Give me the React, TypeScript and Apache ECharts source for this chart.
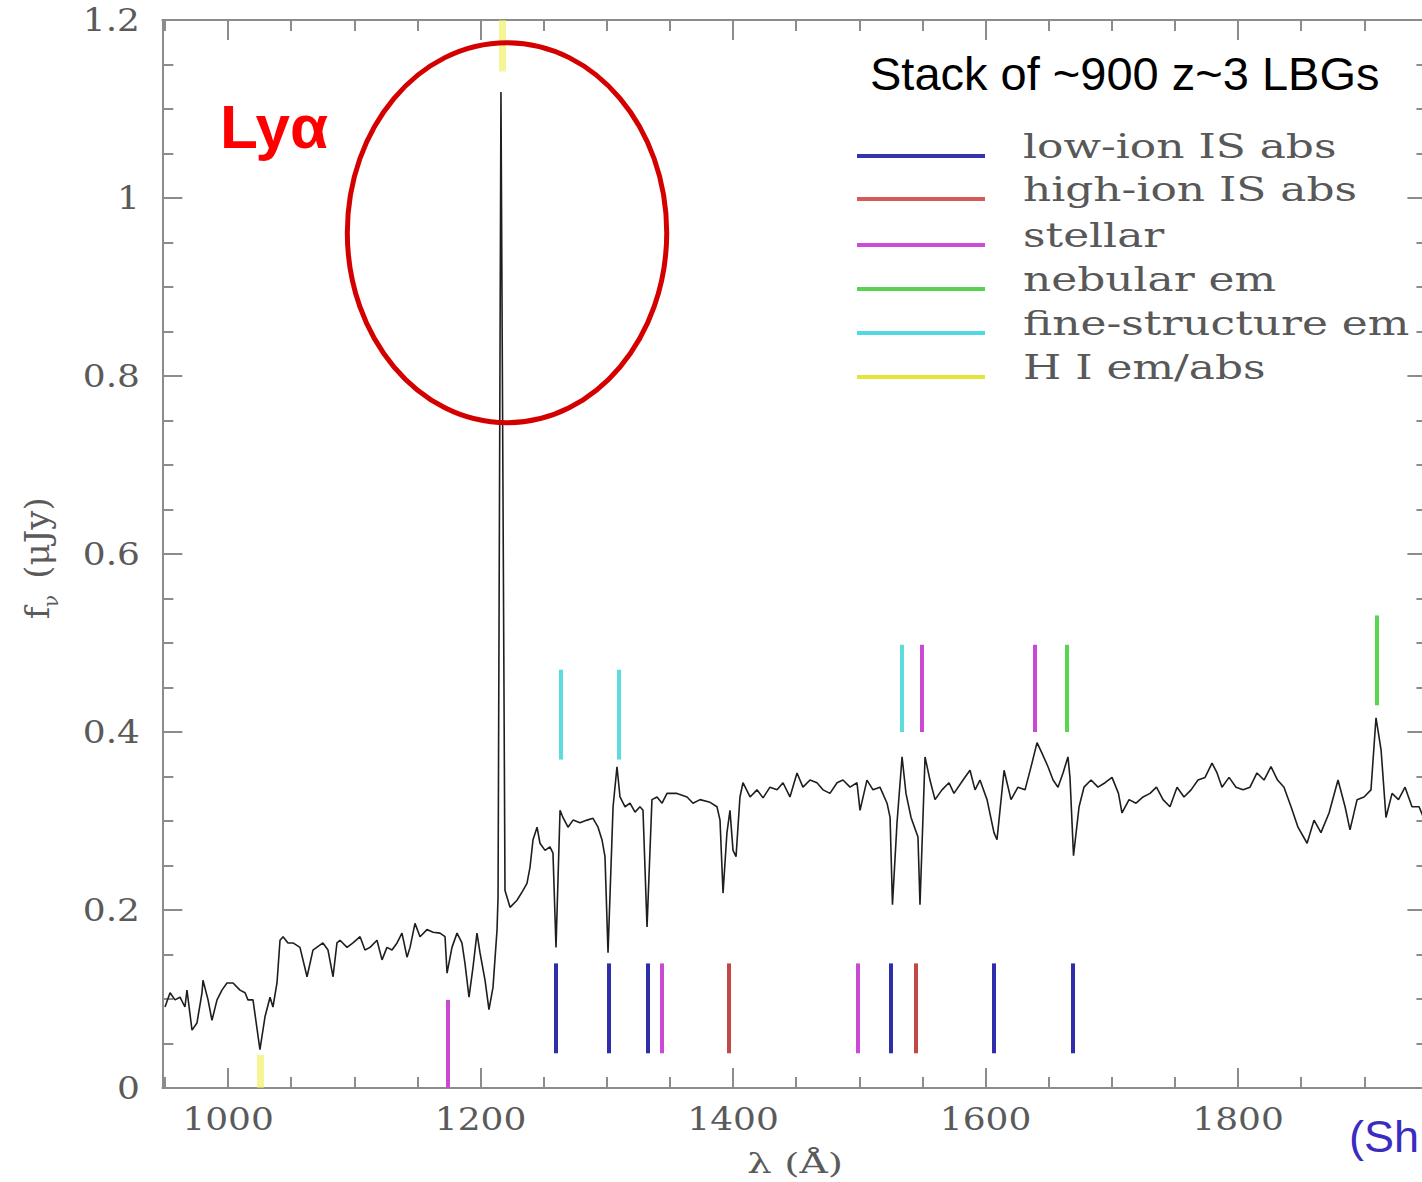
import React, { useEffect, useRef } from "react";
import * as echarts from "echarts";

// Composite rest-frame UV spectrum: wavelength (Å) and flux density f_nu (μJy)
const wavelength = [
  950.1, 954.1, 958.0, 962.0, 965.9, 967.5, 971.5, 975.4, 979.4, 980.2,
  984.2, 987.3, 991.3, 995.2, 999.2, 1004.0, 1009.5, 1013.5, 1015.8, 1019.8,
  1025.3, 1029.3, 1033.3, 1035.6, 1038.8, 1041.2, 1043.6, 1047.5, 1051.5, 1057.0,
  1062.6, 1067.3, 1075.2, 1079.2, 1083.2, 1086.3, 1088.7, 1094.3, 1099.0, 1104.6,
  1108.5, 1112.5, 1118.0, 1122.0, 1125.9, 1129.9, 1133.9, 1137.8, 1141.8, 1144.2,
  1148.1, 1152.1, 1157.6, 1162.4, 1167.9, 1171.9, 1173.5, 1177.4, 1181.4, 1185.3,
  1187.7, 1190.9, 1194.1, 1197.2, 1199.6, 1203.6, 1206.7, 1209.9, 1213.1, 1213.9,
  1216.2, 1219.4, 1223.4, 1228.9, 1233.7, 1236.8, 1239.2, 1241.6, 1244.8, 1247.1,
  1251.1, 1255.0, 1257.4, 1259.8, 1263.0, 1265.3, 1269.3, 1273.3, 1278.8, 1284.4,
  1289.1, 1293.1, 1296.2, 1298.6, 1301.0, 1305.0, 1308.1, 1310.5, 1314.5, 1318.4,
  1322.4, 1326.3, 1328.7, 1331.9, 1335.8, 1339.8, 1343.8, 1347.7, 1355.6, 1363.6,
  1368.3, 1373.9, 1381.8, 1387.3, 1389.7, 1392.1, 1395.2, 1397.6, 1400.0, 1402.4,
  1405.5, 1407.9, 1413.5, 1419.0, 1423.8, 1429.3, 1434.9, 1439.6, 1445.1, 1450.7,
  1455.4, 1461.0, 1466.5, 1471.3, 1476.8, 1482.4, 1487.1, 1492.7, 1498.2, 1500.6,
  1506.1, 1510.9, 1516.4, 1522.0, 1524.4, 1526.3, 1529.9, 1533.9, 1537.0, 1541.0,
  1546.5, 1548.1, 1552.1, 1556.0, 1560.0, 1565.5, 1571.1, 1575.0, 1582.2, 1587.7,
  1591.7, 1595.6, 1601.2, 1606.7, 1609.1, 1614.7, 1620.2, 1625.7, 1631.3, 1636.8,
  1640.8, 1644.8, 1649.5, 1653.5, 1657.4, 1661.4, 1665.3, 1666.9, 1669.7, 1674.1,
  1678.0, 1683.6, 1689.1, 1694.7, 1700.2, 1705.3, 1708.1, 1713.7, 1719.2, 1724.8,
  1730.3, 1735.4, 1740.6, 1746.1, 1751.7, 1757.2, 1762.8, 1768.3, 1773.9, 1779.4,
  1783.4, 1787.3, 1792.9, 1798.4, 1804.0, 1809.5, 1815.0, 1820.6, 1826.1, 1831.3,
  1836.4, 1842.0, 1847.5, 1854.7, 1860.2, 1865.7, 1872.1, 1879.2, 1884.8, 1888.7,
  1894.3, 1899.8, 1905.3, 1909.3, 1913.3, 1917.2, 1922.0, 1927.1, 1932.3, 1937.8,
  1943.4, 1948.0,
];

const flux = [
  0.091, 0.107, 0.099, 0.102, 0.091, 0.110, 0.065, 0.073, 0.107, 0.121,
  0.099, 0.076, 0.099, 0.110, 0.118, 0.118, 0.110, 0.107, 0.099, 0.099,
  0.043, 0.080, 0.102, 0.091, 0.118, 0.166, 0.170, 0.163, 0.163, 0.158,
  0.125, 0.155, 0.163, 0.155, 0.125, 0.163, 0.166, 0.158, 0.163, 0.170,
  0.155, 0.158, 0.166, 0.144, 0.158, 0.155, 0.163, 0.174, 0.147, 0.158,
  0.185, 0.170, 0.178, 0.175, 0.174, 0.170, 0.129, 0.158, 0.174, 0.163,
  0.140, 0.102, 0.136, 0.174, 0.152, 0.121, 0.088, 0.113, 0.178, 0.215,
  1.119, 0.222, 0.203, 0.211, 0.222, 0.230, 0.248, 0.279, 0.293, 0.275,
  0.267, 0.271, 0.264, 0.158, 0.312, 0.304, 0.293, 0.301, 0.298, 0.301,
  0.303, 0.293, 0.279, 0.260, 0.152, 0.316, 0.361, 0.327, 0.316, 0.320,
  0.310, 0.316, 0.312, 0.181, 0.324, 0.327, 0.320, 0.331, 0.331, 0.327,
  0.320, 0.324, 0.321, 0.316, 0.301, 0.219, 0.287, 0.312, 0.267, 0.260,
  0.327, 0.343, 0.327, 0.335, 0.326, 0.338, 0.335, 0.343, 0.327, 0.354,
  0.338, 0.346, 0.343, 0.335, 0.331, 0.343, 0.346, 0.338, 0.343, 0.312,
  0.346, 0.335, 0.338, 0.320, 0.304, 0.206, 0.298, 0.372, 0.331, 0.304,
  0.282, 0.206, 0.372, 0.346, 0.324, 0.335, 0.343, 0.331, 0.346, 0.357,
  0.335, 0.346, 0.324, 0.287, 0.279, 0.357, 0.324, 0.338, 0.335, 0.365,
  0.388, 0.376, 0.361, 0.346, 0.338, 0.354, 0.372, 0.349, 0.261, 0.316,
  0.338, 0.346, 0.338, 0.343, 0.349, 0.331, 0.309, 0.324, 0.320, 0.327,
  0.331, 0.338, 0.324, 0.316, 0.338, 0.327, 0.335, 0.346, 0.349, 0.365,
  0.354, 0.338, 0.349, 0.338, 0.335, 0.338, 0.354, 0.346, 0.361, 0.346,
  0.338, 0.316, 0.293, 0.275, 0.301, 0.287, 0.309, 0.346, 0.316, 0.290,
  0.324, 0.327, 0.335, 0.416, 0.380, 0.304, 0.331, 0.324, 0.338, 0.316,
  0.316, 0.300,
];

// Axis ticks
const xMajorTicks = [1000, 1200, 1400, 1600, 1800];
const xMinorTicks = [950, 1050, 1100, 1150, 1250, 1300, 1350, 1450, 1500, 1550, 1650, 1700, 1750, 1850, 1900, 1950];
const yTickValues = [0, 0.2, 0.4, 0.6, 0.8, 1, 1.2];

// Spectral feature markers: rest wavelength, bar bottom and bar top (μJy)
const lowIonWave = [1259.8, 1301.8, 1332.7, 1525.1, 1606.7, 1669.3];
const lowIonBottom = [0.039, 0.039, 0.039, 0.039, 0.039, 0.039];
const lowIonTop = [0.14, 0.14, 0.14, 0.14, 0.14, 0.14];

const highIonWave = [1396.8, 1545.0];
const highIonBottom = [0.039, 0.039];
const highIonTop = [0.14, 0.14];

const stellarWave = [1174.3, 1343.8, 1499.0, 1549.7, 1639.2];
const stellarBottom = [0, 0.039, 0.039, 0.4, 0.4];
const stellarTop = [0.099, 0.14, 0.14, 0.498, 0.498];

const nebularWave = [1664.6, 1910.0];
const nebularBottom = [0.4, 0.43];
const nebularTop = [0.498, 0.531];

const fineWave = [1263.8, 1309.7, 1533.9];
const fineBottom = [0.369, 0.369, 0.4];
const fineTop = [0.47, 0.47, 0.498];

const hiWave = [1025.3, 1217.0];
const hiBottom = [0, 1.142];
const hiTop = [0.037, 1.2];

const familyNames = ["low-ion IS abs", "high-ion IS abs", "stellar", "nebular em", "fine-structure em", "H I em/abs"];

const families = [
  { name: familyNames[0], wave: lowIonWave, lo: lowIonBottom, hi: lowIonTop, color: "#2e2eaa", legend: "#3434b0", width: 4, opacity: 1 },
  { name: familyNames[1], wave: highIonWave, lo: highIonBottom, hi: highIonTop, color: "#c24848", legend: "#d45a5a", width: 4, opacity: 1 },
  { name: familyNames[2], wave: stellarWave, lo: stellarBottom, hi: stellarTop, color: "#c84ad4", legend: "#d04ad8", width: 4, opacity: 1 },
  { name: familyNames[3], wave: nebularWave, lo: nebularBottom, hi: nebularTop, color: "#58d650", legend: "#5ad250", width: 4, opacity: 1 },
  { name: familyNames[4], wave: fineWave, lo: fineBottom, hi: fineTop, color: "#5cdcdc", legend: "#50d8e4", width: 4, opacity: 1 },
  { name: familyNames[5], wave: hiWave, lo: hiBottom, hi: hiTop, color: "#eeee50", legend: "#e4e43c", width: 7, opacity: 0.6 },
];

const axisGray = "#8c8c8c";
const labelGray = "#5a5a5a";
const serif = "DejaVu Serif";

function xAxisDef(position: "top" | "bottom", major: boolean) {
  return {
    type: "value",
    gridIndex: 0,
    position,
    min: 948,
    max: 1950,
    splitLine: { show: false },
    axisLabel: { show: false },
    axisLine: { show: major, onZero: false, lineStyle: { color: axisGray, width: 2 } },
    axisTick: {
      show: true,
      inside: true,
      length: major ? 20 : 11,
      customValues: major ? xMajorTicks : xMinorTicks,
      lineStyle: { color: axisGray, width: 2 },
    },
  };
}

function yAxisDef(position: "left" | "right") {
  return {
    type: "value",
    gridIndex: 0,
    position,
    min: 0,
    max: 1.2,
    interval: 0.2,
    splitLine: { show: false },
    minorSplitLine: { show: false },
    axisLabel: { show: false },
    axisLine: { show: true, onZero: false, lineStyle: { color: axisGray, width: 2 } },
    axisTick: { show: true, inside: true, length: 20, lineStyle: { color: axisGray, width: 2 } },
    minorTick: { show: true, splitNumber: 4, length: 11, lineStyle: { color: axisGray, width: 2 } },
  };
}

export default function App() {
  const ref = useRef<HTMLDivElement>(null);

  useEffect(() => {
    if (!ref.current) return;
    const chart = echarts.init(ref.current, null, { renderer: "svg" });

    const spectrum = wavelength.map((w, i) => [w, flux[i]]);

    const markerSeries = families.map((f) => ({
      type: "lines",
      name: f.name,
      coordinateSystem: "cartesian2d",
      xAxisIndex: 0,
      yAxisIndex: 0,
      silent: true,
      z: 4,
      lineStyle: { color: f.color, width: f.width, opacity: f.opacity, cap: "butt" },
      data: f.wave.map((w, i) => ({ coords: [[w, f.lo[i]], [w, f.hi[i]]] })),
    }));

    chart.setOption({
      animation: false,
      backgroundColor: "#ffffff",
      grid: { left: 162.35, top: 20, right: 32.6, bottom: 94, containLabel: false, outerBoundsMode: "none" },
      xAxis: [xAxisDef("bottom", true), xAxisDef("bottom", false), xAxisDef("top", true), xAxisDef("top", false)],
      yAxis: [yAxisDef("left"), yAxisDef("right")],
      series: [
        {
          type: "line",
          name: "stack",
          xAxisIndex: 0,
          yAxisIndex: 0,
          data: spectrum,
          showSymbol: false,
          symbol: "none",
          silent: true,
          z: 3,
          lineStyle: { color: "#1e1e1e", width: 1.6 },
        },
        ...markerSeries,
      ],
    });

    const toX = (v: number) => chart.convertToPixel({ xAxisIndex: 0 }, v) as number;
    const toY = (v: number) => chart.convertToPixel({ yAxisIndex: 0 }, v) as number;

    const elements: any[] = [];

    // Tick labels
    xMajorTicks.forEach((v) => {
      elements.push({
        type: "text",
        x: toX(v),
        y: 1119,
        scaleX: 1.16,
        silent: true,
        style: {
          text: String(v),
          fill: labelGray,
          fontSize: 31,
          fontFamily: serif,
          align: "center",
          textAlign: "center",
          verticalAlign: "middle",
          textVerticalAlign: "middle",
        },
      });
    });
    yTickValues.forEach((v) => {
      elements.push({
        type: "text",
        x: 140,
        y: toY(v),
        scaleX: 1.16,
        silent: true,
        style: {
          text: String(v),
          fill: labelGray,
          fontSize: 31,
          fontFamily: serif,
          align: "right",
          textAlign: "right",
          verticalAlign: "middle",
          textVerticalAlign: "middle",
        },
      });
    });

    // Axis titles
    elements.push({
      type: "text",
      x: 795,
      y: 1163,
      scaleX: 1.4,
      silent: true,
      style: {
        text: "λ (Å)",
        fill: labelGray,
        fontSize: 28,
        fontFamily: serif,
        align: "center",
        textAlign: "center",
        verticalAlign: "middle",
        textVerticalAlign: "middle",
      },
    });
    elements.push({
      type: "group",
      x: 37,
      y: 556,
      rotation: Math.PI / 2,
      silent: true,
      children: [
        {
          type: "text",
          x: -57,
          y: 0,
          style: { text: "f", fill: labelGray, fontSize: 34, fontFamily: serif, align: "center", textAlign: "center", verticalAlign: "middle", textVerticalAlign: "middle" },
        },
        {
          type: "text",
          x: -45,
          y: 14,
          style: { text: "ν", fill: labelGray, fontSize: 20, fontFamily: serif, align: "center", textAlign: "center", verticalAlign: "middle", textVerticalAlign: "middle" },
        },
        {
          type: "text",
          x: 18,
          y: 0,
          style: { text: "(μJy)", fill: labelGray, fontSize: 34, fontFamily: serif, align: "center", textAlign: "center", verticalAlign: "middle", textVerticalAlign: "middle" },
        },
      ],
    });

    // Legend for the feature markers
    const legendLineY = [156, 199, 245, 289, 333, 377];
    families.forEach((f, i) => {
      elements.push({
        type: "line",
        silent: true,
        shape: { x1: 857, y1: legendLineY[i], x2: 985, y2: legendLineY[i] },
        style: { stroke: f.legend, lineWidth: 4 },
      });
      elements.push({
        type: "text",
        x: 1023,
        y: legendLineY[i] - 10,
        scaleX: 1.29,
        silent: true,
        style: {
          text: f.name,
          fill: "#585858",
          fontSize: 34,
          fontFamily: serif,
          align: "left",
          textAlign: "left",
          verticalAlign: "middle",
          textVerticalAlign: "middle",
        },
      });
    });

    // Annotations
    elements.push({
      type: "text",
      x: 870,
      y: 73,
      silent: true,
      style: {
        text: "Stack of ~900 z~3 LBGs",
        fill: "#000000",
        fontSize: 47,
        fontFamily: "Liberation Sans",
        align: "left",
        textAlign: "left",
        verticalAlign: "middle",
        textVerticalAlign: "middle",
      },
    });
    elements.push({
      type: "text",
      x: 220,
      y: 126,
      silent: true,
      style: {
        text: "Lyα",
        fill: "#ff0000",
        fontSize: 62,
        fontWeight: "bold",
        fontFamily: "Liberation Sans",
        align: "left",
        textAlign: "left",
        verticalAlign: "middle",
        textVerticalAlign: "middle",
      },
    });
    // Citation at the lower right corner (only its opening fits on the page)
    elements.push({
      type: "text",
      x: 1349,
      y: 1136,
      silent: true,
      style: {
        text: "(Sh",
        fill: "#3a2cc0",
        fontSize: 45,
        fontFamily: "Liberation Sans",
        align: "left",
        textAlign: "left",
        verticalAlign: "middle",
        textVerticalAlign: "middle",
      },
    });

    // Ellipse around the Lyman-alpha emission peak
    const c = chart.convertToPixel({ seriesIndex: 0 }, [1221, 0.961]) as number[];
    const edge = chart.convertToPixel({ seriesIndex: 0 }, [1221 + 126.5, 0.961 + 0.2135]) as number[];
    elements.push({
      type: "ellipse",
      silent: true,
      z: 100,
      shape: { cx: c[0], cy: c[1], rx: Math.abs(edge[0] - c[0]), ry: Math.abs(c[1] - edge[1]) },
      style: { fill: "none", stroke: "#d40000", lineWidth: 5 },
    });

    chart.setOption({ graphic: { elements } });

    return () => chart.dispose();
  }, []);

  return (
    <div style={{ position: "fixed", left: 0, top: 0, width: 1422, height: 1182, overflow: "hidden", background: "#ffffff" }}>
      <div ref={ref} style={{ width: 1460, height: 1182 }} />
    </div>
  );
}
